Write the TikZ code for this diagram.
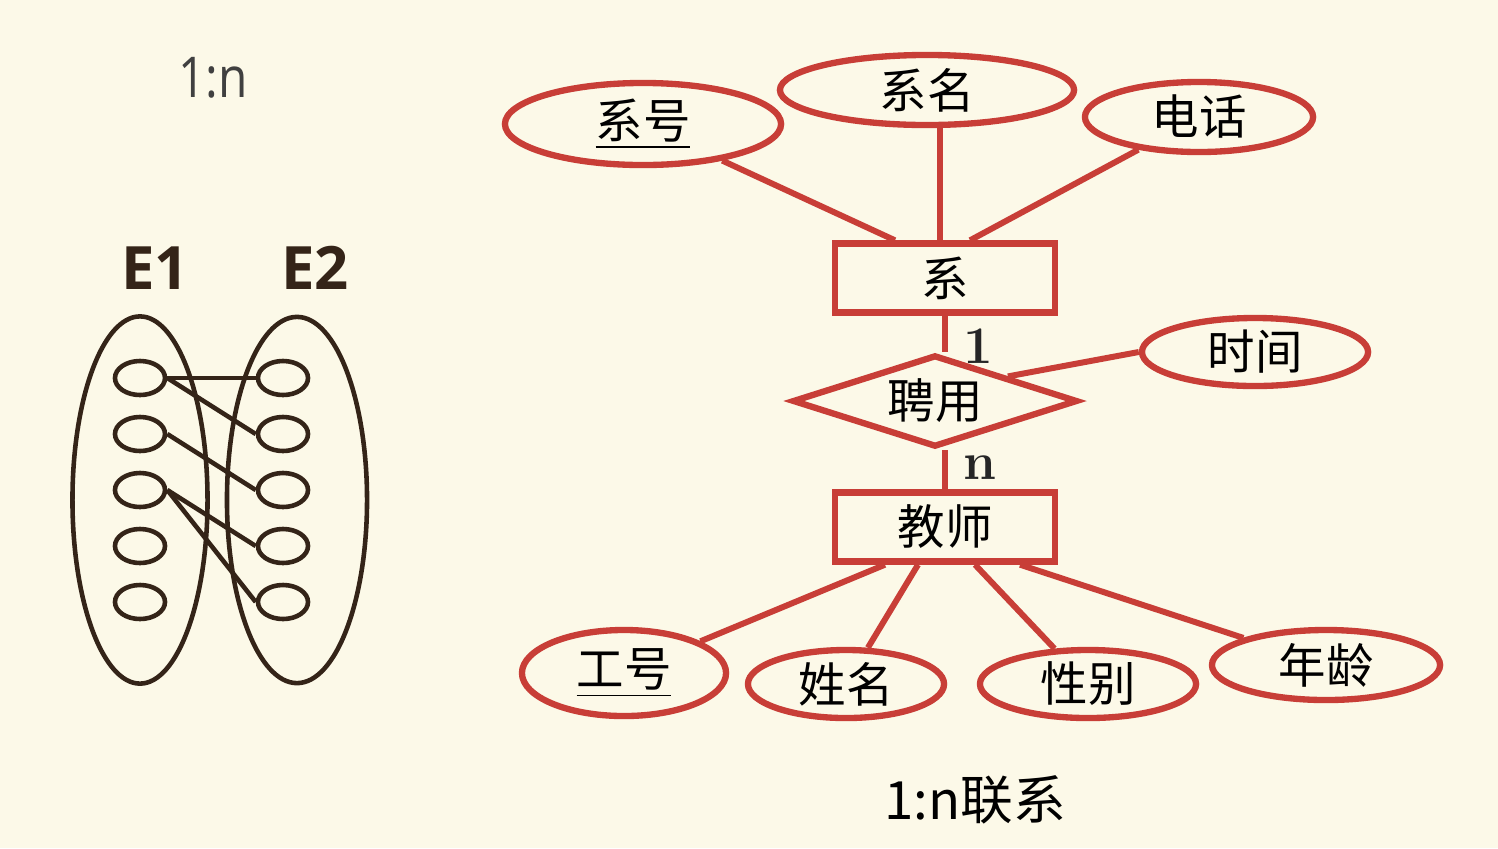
\documentclass[tikz,border=0pt]{standalone}
\usepackage{fontspec}
\setsansfont{Open Sans}
\newfontfamily\cjk{Noto Sans CJK SC}
\usetikzlibrary{shapes.geometric, positioning}
\usepackage{xcolor}

\definecolor{paper}{RGB}{252,249,232}
\definecolor{erred}{RGB}{200,62,55}
\definecolor{ink}{RGB}{52,36,24}

\begin{document}
\begin{tikzpicture}[
    x=0.01cm, y=-0.01cm,
    entity/.style={rectangle, draw=erred, line width=1.8pt, minimum width=2.2cm, minimum height=0.69cm, inner sep=0pt, font=\cjk\fontsize{13.5}{16}\selectfont},
    attr/.style={ellipse, draw=erred, line width=1.8pt, inner sep=0pt, font=\cjk\fontsize{13.5}{16}\selectfont},
    rel/.style={diamond, draw=erred, line width=1.8pt, aspect=3.1, inner sep=0pt, minimum width=2.85cm, minimum height=0.92cm, font=\cjk\fontsize{13.5}{16}\selectfont},
    link/.style={draw=erred, line width=1.7pt},
    card/.style={font=\bfseries\fontsize{15}{18}\selectfont, text=black!85},
    set/.style={ellipse, draw=ink, line width=1.3pt, inner sep=0pt},
    elem/.style={ellipse, draw=ink, line width=1.3pt, inner sep=0pt, minimum width=0.5cm, minimum height=0.34cm},
    pair/.style={draw=ink, line width=1.3pt}
]

\fill[paper] (0,0) rectangle (1498,848);

% Left: sets E1 and E2
\node[font=\sffamily\fontsize{16}{20}\selectfont, text=black!75, xscale=0.85] (title) at (213,78) {1:n};
\node[font=\sffamily\bfseries\fontsize{17}{20}\selectfont, text=ink] (e1) at (155,268) {E1};
\node[font=\sffamily\bfseries\fontsize{17}{20}\selectfont, text=ink] (e2) at (315,268) {E2};
\node[set, minimum width=1.35cm, minimum height=3.67cm] (set1) at (140,500) {};
\node[set, minimum width=1.4cm, minimum height=3.66cm] (set2) at (297,500) {};
\foreach \i/\y in {1/378, 2/434, 3/490, 4/546, 5/602} {
    \node[elem] (l\i) at (140,\y) {};
    \node[elem] (r\i) at (283,\y) {};
}
\draw[pair] (l1.east) -- (r1.west);
\draw[pair] (l1.east) -- (r2.west);
\draw[pair] (l2.east) -- (r3.west);
\draw[pair] (l3.east) -- (r4.west);
\draw[pair] (l3.east) -- (r5.west);

% Nodes
\node[entity] (dept) at (945,278) {系};
\node[attr, minimum width=2.76cm, minimum height=0.82cm] (deptno) at (643,124) {\underline{系号}};
\node[attr, minimum width=2.94cm, minimum height=0.7cm] (deptname) at (927,90) {系名};
\node[attr, minimum width=2.28cm, minimum height=0.7cm] (phone) at (1199,117) {电话};
\node[rel] (hire) at (935,401) {聘用};
\node[attr, minimum width=2.26cm, minimum height=0.68cm] (time) at (1255,352) {时间};
\node[entity] (teacher) at (945,527) {教师};
\node[attr, minimum width=2.04cm, minimum height=0.86cm] (tno) at (624,673) {\underline{工号}};
\node[attr, minimum width=1.96cm, minimum height=0.68cm] (tname) at (846,684) {姓名};
\node[attr, minimum width=2.16cm, minimum height=0.68cm] (sex) at (1088,684) {性别};
\node[attr, minimum width=2.28cm, minimum height=0.7cm] (age) at (1326,665) {年龄};

% Lines
\draw[link] (deptno) -- ([xshift=-0.5cm]dept.north);
\draw[link] ([xshift=-0.05cm]dept.north) -- ([xshift=-0.05cm]dept.north |- deptname.south);
\draw[link] (phone) -- ([xshift=0.25cm]dept.north);
\draw[link] (dept.south) -- (hire.north -| dept.south);
\draw[link] (hire.south -| teacher.north) -- (teacher.north);
\draw[link] (hire.north east) -- (time.west);
\draw[link] ([xshift=-0.6cm]teacher.south) -- (tno);
\draw[link] ([xshift=-0.27cm]teacher.south) -- (tname);
\draw[link] ([xshift=0.3cm]teacher.south) -- (sex);
\draw[link] ([xshift=0.75cm]teacher.south) -- (age);
\node[card] (one) at (978,346) {1};
\node[card] (many) at (980,468) {n};

\node[font=\cjk\fontsize{15}{18}\selectfont] (caption) at (975,800) {1:n联系};

\end{tikzpicture}
\end{document}
